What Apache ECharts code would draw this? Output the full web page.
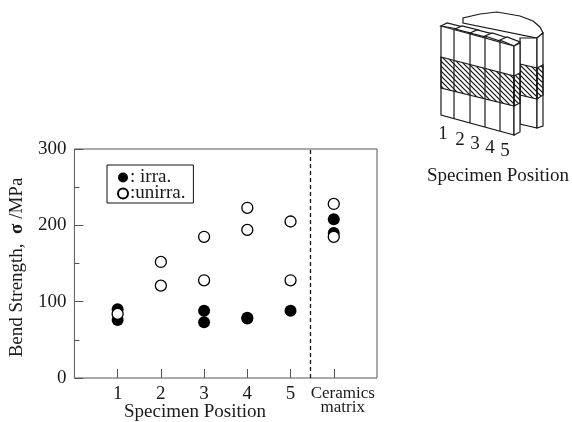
<!DOCTYPE html>
<html><head><meta charset="utf-8">
<style>html,body{margin:0;padding:0;background:#fff}#c{width:572px;height:422px}</style>
<script src="https://cdn.jsdelivr.net/npm/echarts@6/dist/echarts.min.js"></script>
</head><body><div id="c"></div>
<script>
const irraPoints = [[1,90],[1,76],[3,88],[3,73],[4,79],[4,78],[5,88],[6,208],[6,190]];
const unirraPoints = [[1,84],[2,152],[2,121],[3,185],[3,128],[4,223],[4,194],[5,205],[5,128],[6,228],[6,185]];
const xTickLabels = {1:'1',2:'2',3:'3',4:'4',5:'5',6:'{c|Ceramics\nmatrix}'};
const dividerX = 5.46;
const serif = '"Liberation Serif","Times New Roman",serif';
const ink = '#1a1a1a';

function hatch(){
  const k = document.createElement('canvas'); k.width = 5; k.height = 5;
  const g = k.getContext('2d'); g.strokeStyle = '#111'; g.lineWidth = 1.2;
  g.beginPath();
  g.moveTo(-2.5,2.5);g.lineTo(2.5,7.5);g.moveTo(0,0);g.lineTo(5,5);g.moveTo(2.5,-2.5);g.lineTo(7.5,2.5);
  g.stroke();
  return {image:k, repeat:'repeat'};
}
const pat = hatch();
const line = {stroke:ink, lineWidth:1.2, fill:null};
const poly = (pts,fill)=>({type:'polygon',shape:{points:pts},style:{stroke:ink,lineWidth:1.2,fill:fill||'#fff'},silent:true});
const seg = (a,b)=>({type:'line',shape:{x1:a[0],y1:a[1],x2:b[0],y2:b[1]},style:line,silent:true});
const label = (t,x,y,s)=>({type:'text',x:x,y:y,style:{text:t,font:s+'px '+serif,fill:ink,textAlign:'center',textVerticalAlign:'middle'},silent:true});

const diagram = [
  // rear block
  poly([[463,18],[463,23],[537,38],[543,33],[540,27],[533,21],[520,16],[497,12],[480,14]]),
  poly([[520,38],[537,38],[537,128],[520,124]]),
  poly([[537,38],[543,33],[543,126],[537,128]]),
  poly([[520,64],[537,68],[537,99],[520,95]],pat),
  poly([[537,68],[543,65],[543,95],[537,99]],pat),
  // front blocks
  poly([[441,26],[447,23],[463,27],[458,29]]),
  poly([[455,29],[462,26],[478,30],[471,33]]),
  poly([[470,33],[477,30],[493,34],[486,37]]),
  poly([[485,36],[492,33],[508,38],[500,41]]),
  poly([[500,40],[507,37],[520,42],[514,46]]),
  poly([[441,26],[514,46],[514,135],[441,115]]),
  poly([[514,46],[520,43],[520,132],[514,135]]),
  poly([[441,57],[514,76],[514,106],[441,88]],pat),
  poly([[514,76],[520,73],[520,103],[514,106]],pat),
  seg([454,30],[454,119]),seg([470,33],[470,123]),seg([485,37],[485,127]),seg([500,41],[500,131]),
  label('1',443,134,19),label('2',460,140,19),label('3',475,144,19),label('4',490,148,19),label('5',505,151,19),
  label('Specimen Position',498,176,19),
  label('Specimen Position',195,412,19)
];

const chart = echarts.init(document.getElementById('c'),null,{renderer:'canvas'});
const mk = {symbol:'circle',type:'scatter'};
chart.setOption({
  animation:false,
  backgroundColor:'#fff',
  textStyle:{fontFamily:serif},
  grid:{left:73,right:195,top:149,bottom:44,show:true,borderColor:'#555',borderWidth:1},
  legend:{
    left:107,top:165,orient:'vertical',itemGap:-3,itemWidth:10,itemHeight:10,
    padding:[3,8,0,10],borderColor:'#111',borderWidth:1,backgroundColor:'#fff',
    textStyle:{fontFamily:serif,fontSize:19,lineHeight:16,height:16,color:ink,padding:[0,0,0,-3]},
    data:[{name:': irra.',icon:'circle'},{name:':unirra.',icon:'circle'}]
  },
  xAxis:{type:'value',min:0,max:7,interval:1,
    axisLine:{show:false},splitLine:{show:false},
    axisTick:{inside:true,length:9,lineStyle:{color:'#555'}},
    axisLabel:{showMinLabel:false,showMaxLabel:false,margin:7,color:ink,fontSize:19,fontFamily:serif,
      formatter:v=>xTickLabels[v]||'',
      rich:{c:{fontSize:17,lineHeight:14,padding:[3,0,0,18],fontFamily:serif,color:ink}}}
  },
  yAxis:{type:'value',min:0,max:300,interval:100,
    name:'Bend Strength,  {s|σ} /MPa',nameLocation:'middle',nameGap:38,
    nameTextStyle:{fontFamily:serif,fontSize:19,color:ink,padding:[0,8,0,0],rich:{s:{fontWeight:'bold',fontSize:19,fontFamily:serif,color:ink}}},
    axisLine:{show:false},splitLine:{show:false},
    axisTick:{inside:true,length:9,lineStyle:{color:'#555'}},
    minorTick:{show:true,splitNumber:2,length:5,lineStyle:{color:'#555'}},
    minorSplitLine:{show:false},
    axisLabel:{margin:8,color:ink,fontSize:19,fontFamily:serif}
  },
  series:[
    {...mk,symbolSize:12,name:': irra.',data:irraPoints,z:2,itemStyle:{color:'#000',borderWidth:0,opacity:1},
     markLine:{silent:true,symbol:'none',label:{show:false},animation:false,
       lineStyle:{color:'#111',type:[4,3],width:1.3},data:[{xAxis:dividerX}]}},
    {...mk,symbolSize:11,name:':unirra.',data:unirraPoints,z:3,itemStyle:{color:'#fff',borderColor:'#000',borderWidth:1.3,opacity:1}}
  ],
  graphic:diagram
});
</script></body></html>
